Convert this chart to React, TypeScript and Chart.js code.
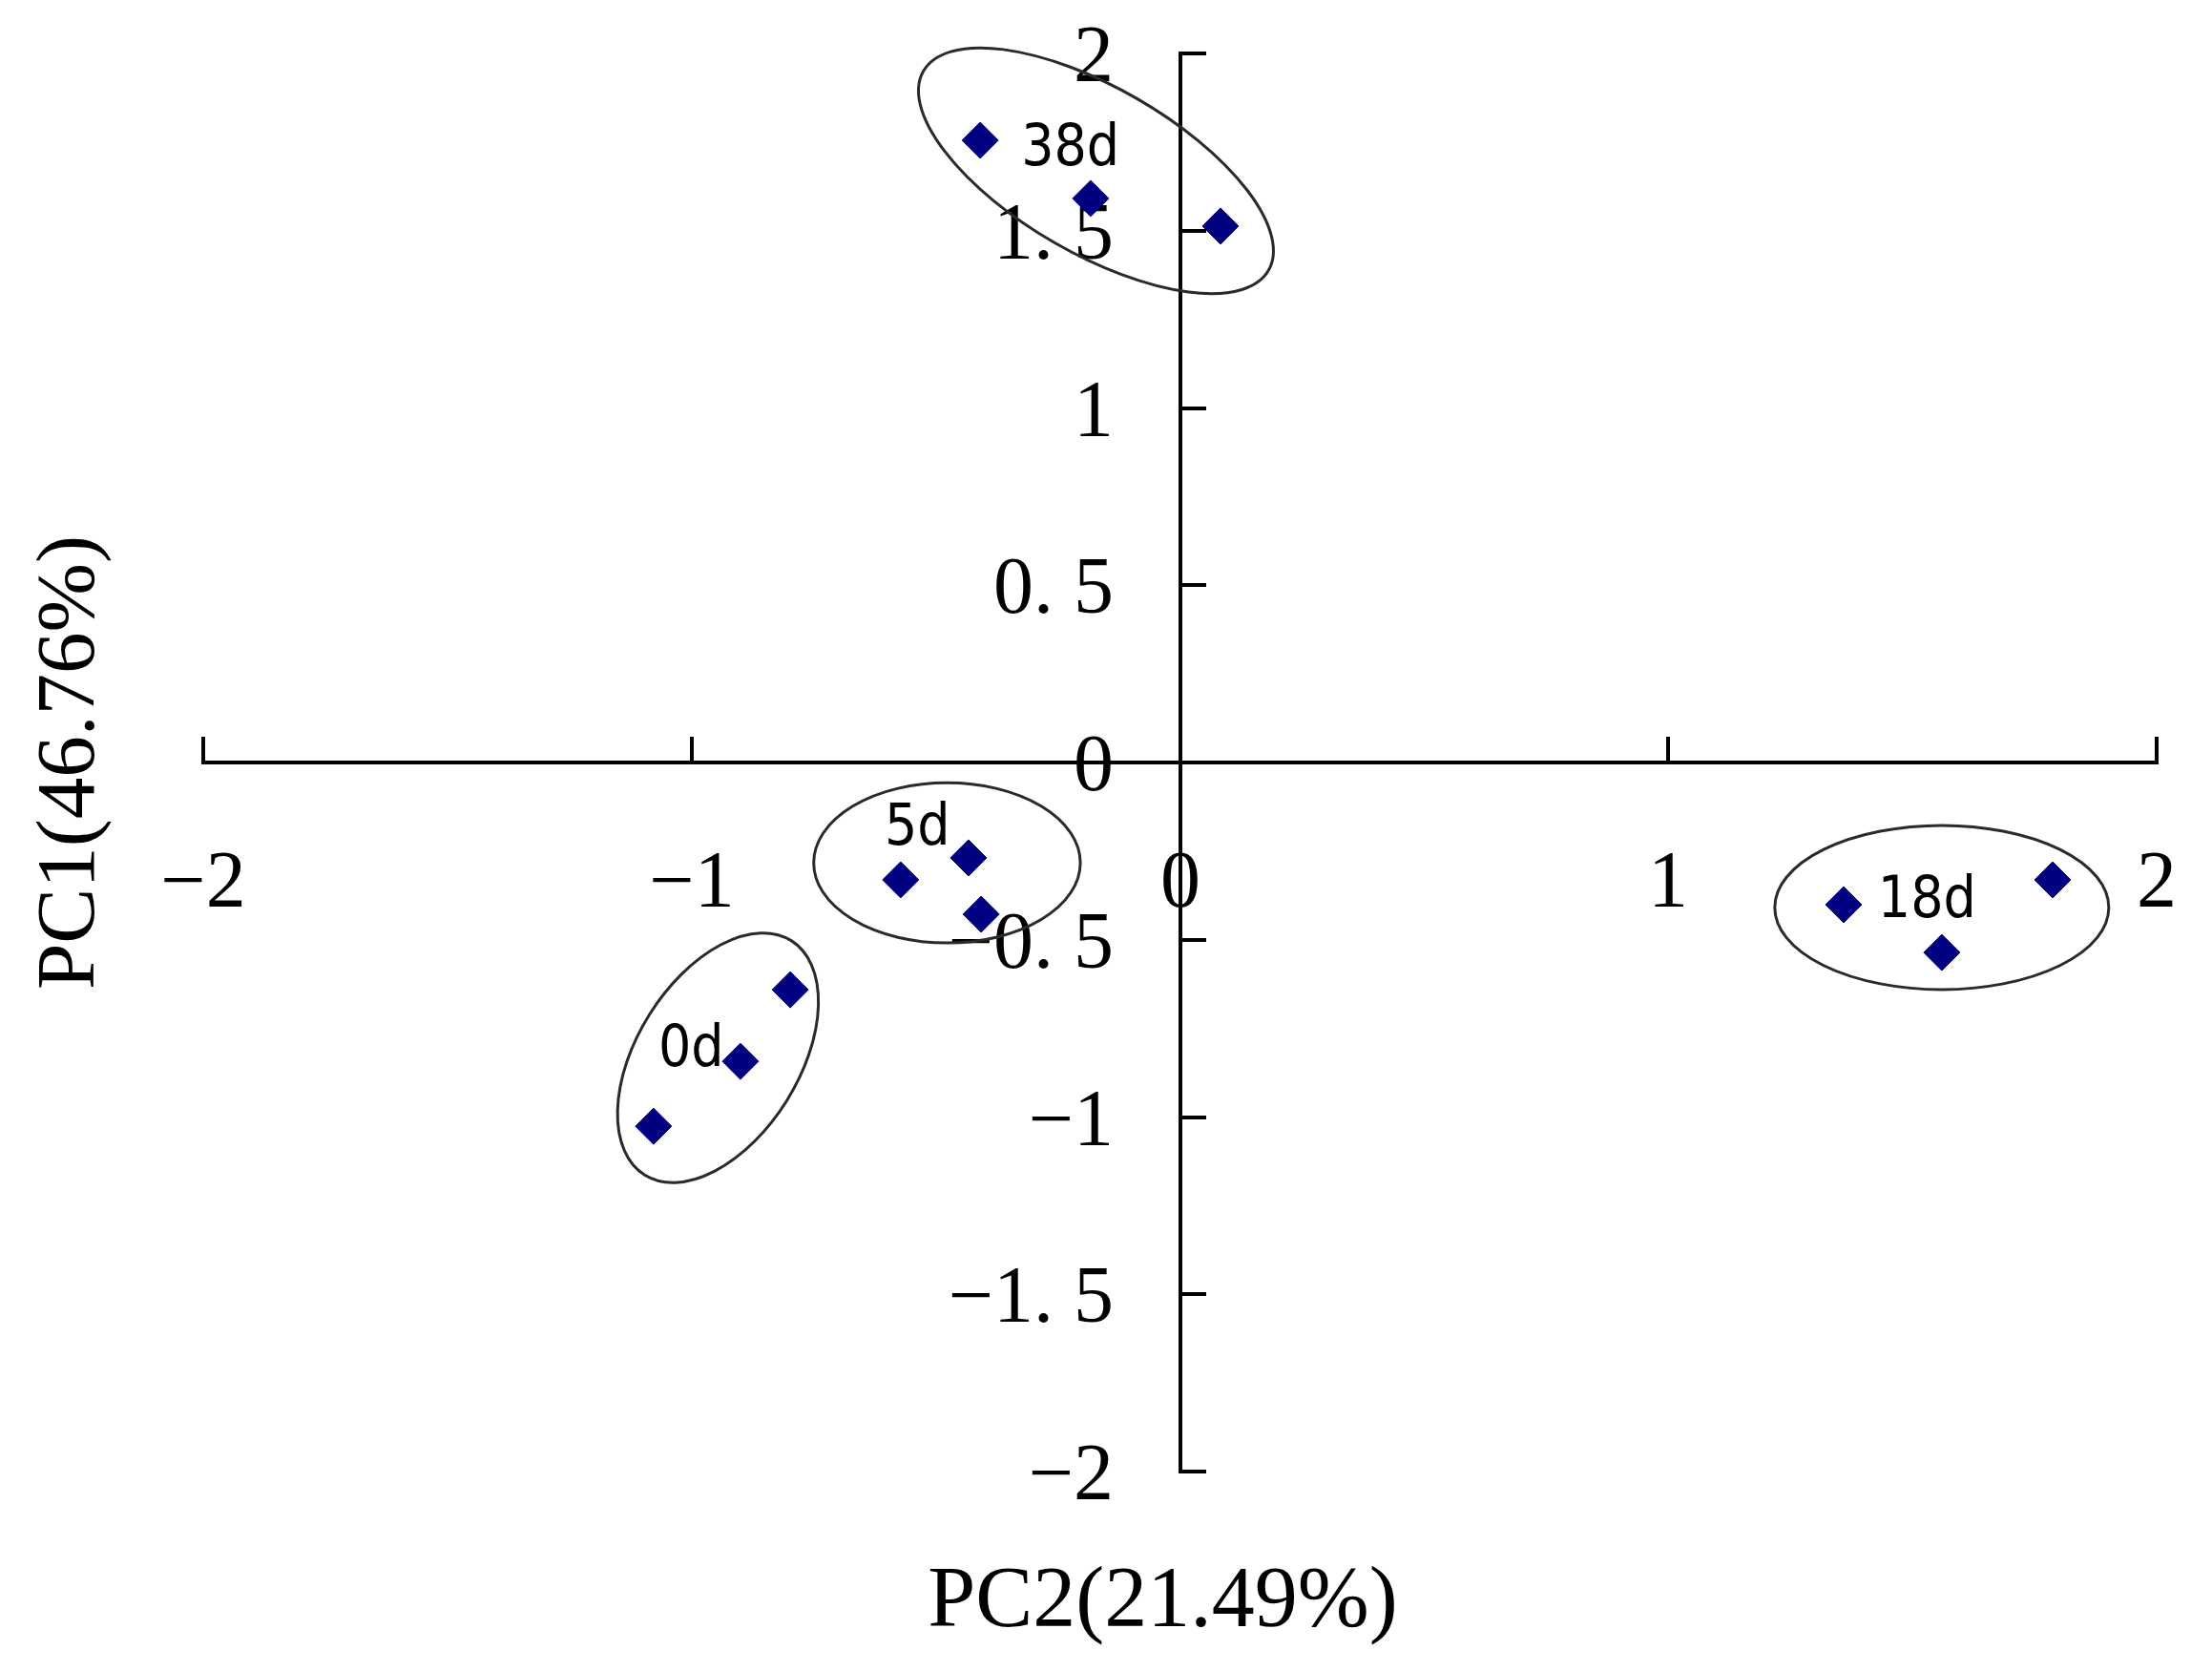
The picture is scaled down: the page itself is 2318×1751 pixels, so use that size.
import React, { useEffect, useRef } from "react";
import { Chart, registerables } from "chart.js";

Chart.register(...registerables);

// ---- data (PCA scores) ----
const groupNames = ["0d", "5d", "18d", "38d"];
const pc2_0d = [-1.078, -0.9, -0.798];
const pc1_0d = [-1.026, -0.843, -0.641];
const pc2_5d = [-0.572, -0.433, -0.407];
const pc1_5d = [-0.331, -0.269, -0.428];
const pc2_18d = [1.359, 1.56, 1.787];
const pc1_18d = [-0.401, -0.536, -0.331];
const pc2_38d = [-0.409, -0.183, 0.083];
const pc1_38d = [1.755, 1.591, 1.513];

const xTicks = [-2, -1, 0, 1, 2];
const yTicks = [-2, -1.5, -1, -0.5, 0, 0.5, 1, 1.5, 2];
const xTitle = "PC2(21.49%)";
const yTitle = "PC1(46.76%)";

// ---- annotations: group ellipses (centre in data units, radii in x-axis units) and group labels ----
const ellipseCx = [-0.946, -0.477, 1.56, -0.172];
const ellipseCy = [-0.833, -0.283, -0.409, 1.669];
const ellipseRa = [0.283, 0.273, 0.342, 0.408];
const ellipseRb = [0.166, 0.164, 0.168, 0.17];
const ellipseAngle = [-58, 0, 0, 30];
const labelX = [-1.068, -0.605, 1.429, -0.325];
const labelY = [-0.856, -0.231, -0.436, 1.685];

const fmtTick = (v: number) =>
  (v < 0 ? "\u2212" : "") + String(Math.abs(v)).replace(".", ". ");

const crossAxesPlugin = {
  id: "crossAxes",
  beforeDatasetsDraw(chart: any) {
    const ctx = chart.ctx as CanvasRenderingContext2D;
    const xs = chart.scales.x;
    const ys = chart.scales.y;
    const area = chart.chartArea;
    const px = (v: number) => Math.round(xs.getPixelForValue(v));
    const py = (v: number) => Math.round(ys.getPixelForValue(v));
    const x0 = px(0);
    const y0 = py(0);
    const tickLen = 27;
    ctx.save();
    ctx.strokeStyle = "#000";
    ctx.lineWidth = 4;
    ctx.lineCap = "butt";
    ctx.beginPath();
    // x axis
    const xl = px(xTicks[0]);
    const xr = px(xTicks[xTicks.length - 1]);
    ctx.moveTo(xl - 2, y0);
    ctx.lineTo(xr + 2, y0);
    for (const v of xTicks) {
      ctx.moveTo(px(v), y0);
      ctx.lineTo(px(v), y0 - tickLen);
    }
    // y axis
    const yt = py(yTicks[yTicks.length - 1]);
    const yb = py(yTicks[0]);
    ctx.moveTo(x0, yt - 2);
    ctx.lineTo(x0, yb + 2);
    for (const v of yTicks) {
      ctx.moveTo(x0, py(v));
      ctx.lineTo(x0 + tickLen, py(v));
    }
    ctx.stroke();

    // tick labels
    ctx.fillStyle = "#000";
    ctx.font = "84px 'Liberation Serif', 'Times New Roman', serif";
    ctx.textBaseline = "alphabetic";
    ctx.textAlign = "center";
    for (const v of xTicks) {
      ctx.fillText(fmtTick(v), px(v), y0 + 151);
    }
    ctx.textAlign = "right";
    for (const v of yTicks) {
      ctx.fillText(fmtTick(v), x0 - 70, py(v) + 29);
    }

    // axis titles
    ctx.textAlign = "center";
    ctx.font = "90px 'Liberation Serif', 'Times New Roman', serif";
    ctx.fillText(xTitle, (area.left + area.right) / 2 - 18, area.bottom + 162);
    ctx.save();
    ctx.translate(area.left - 115, y0);
    ctx.rotate(-Math.PI / 2);
    ctx.font = "87px 'Liberation Serif', 'Times New Roman', serif";
    ctx.fillText(yTitle, 0, 0);
    ctx.restore();
    ctx.restore();
  },
  afterDatasetsDraw(chart: any) {
    const ctx = chart.ctx as CanvasRenderingContext2D;
    const xs = chart.scales.x;
    const ys = chart.scales.y;
    const unit = Math.abs(xs.getPixelForValue(1) - xs.getPixelForValue(0));
    ctx.save();
    ctx.strokeStyle = "#2a2a2a";
    ctx.lineWidth = 3;
    for (let i = 0; i < groupNames.length; i++) {
      ctx.beginPath();
      ctx.ellipse(
        xs.getPixelForValue(ellipseCx[i]),
        ys.getPixelForValue(ellipseCy[i]),
        ellipseRa[i] * unit,
        ellipseRb[i] * unit,
        (ellipseAngle[i] * Math.PI) / 180,
        0,
        Math.PI * 2
      );
      ctx.stroke();
    }
    ctx.fillStyle = "#000";
    ctx.font = "60px 'DejaVu Sans Condensed', 'DejaVu Sans', sans-serif";
    ctx.textAlign = "left";
    ctx.textBaseline = "alphabetic";
    for (let i = 0; i < groupNames.length; i++) {
      ctx.fillText(groupNames[i], xs.getPixelForValue(labelX[i]), ys.getPixelForValue(labelY[i]));
    }
    ctx.restore();
  },
};

const toPoints = (xsArr: number[], ysArr: number[]) =>
  xsArr.map((x, i) => ({ x, y: ysArr[i] }));

export default function App() {
  const canvasRef = useRef<HTMLCanvasElement | null>(null);

  useEffect(() => {
    document.body.style.margin = "0";
    const canvas = canvasRef.current;
    if (!canvas) return;
    const pointStyle = {
      pointStyle: "rectRot" as const,
      pointRadius: 19,
      pointBackgroundColor: "#000080",
      pointBorderColor: "#000080",
      pointBorderWidth: 1,
      showLine: false,
    };
    const chart = new Chart(canvas, {
      type: "scatter",
      data: {
        datasets: [
          { label: groupNames[0], data: toPoints(pc2_0d, pc1_0d), ...pointStyle },
          { label: groupNames[1], data: toPoints(pc2_5d, pc1_5d), ...pointStyle },
          { label: groupNames[2], data: toPoints(pc2_18d, pc1_18d), ...pointStyle },
          { label: groupNames[3], data: toPoints(pc2_38d, pc1_38d), ...pointStyle },
        ],
      },
      options: {
        responsive: false,
        animation: false,
        devicePixelRatio: 1,
        layout: { padding: { left: 213, right: 58, top: 56, bottom: 209 } },
        scales: {
          x: { type: "linear", min: -2, max: 2, display: false },
          y: { type: "linear", min: -2, max: 2, display: false },
        },
        plugins: {
          legend: { display: false },
          tooltip: { enabled: false },
        },
      },
      plugins: [crossAxesPlugin],
    });
    return () => chart.destroy();
  }, []);

  return (
    <canvas
      ref={canvasRef}
      width={2318}
      height={1751}
      style={{ display: "block", width: 2318, height: 1751, background: "#fff" }}
    />
  );
}
